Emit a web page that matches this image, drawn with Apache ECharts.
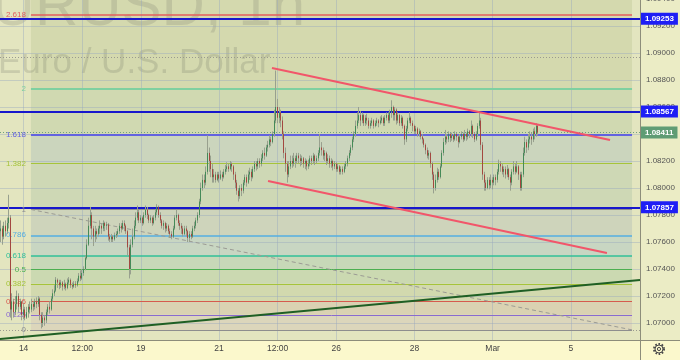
<!DOCTYPE html>
<html><head><meta charset="utf-8">
<script src="https://cdn.jsdelivr.net/npm/echarts@6/dist/echarts.min.js"></script>
<style>html,body{margin:0;padding:0;background:#ebecc5}#c{width:680px;height:360px}</style>
</head><body><div id="c"></div>
<script>
// ---- data (candle values are pips above priceBase) ----
const priceBase = 1.07;
const firstOpen = 68;
const closes = [
70,64,72,68,74,78,10,16,8,14, 20,12,16,6,10,4,8,12,10,14, 12,16,14,18,6,0,4,2,8,12,
10,18,22,24,32,30,28,30,27,29, 26,30,32,28,27,29,28,31,35,33, 37,40,48,58,72,80,70,64,68,66,
70,72,70,74,72,73,64,62,64,62, 65,66,68,72,70,74,72,68,56,40, 58,64,72,78,82,76,78,74,80,84,
80,76,78,74,78,82,86,80,76,72, 74,70,72,68,66,64,70,78,80,74, 72,70,66,70,68,63,66,64,70,72,
76,80,90,100,106,104,112,126,120,114, 108,110,106,110,107,110,108,112,114,116, 114,118,116,110,104,98,94,100,98,104,
108,104,110,112,108,114,118,116,120,118, 122,126,124,130,132,136,134,140,150,160, 152,156,150,140,126,118,110,116,120,118,
122,120,124,122,120,122,118,120,116,118, 122,120,124,120,122,126,130,128,124,126, 120,122,118,120,116,118,114,116,112,114,
112,116,118,122,126,130,136,140,146,150, 154,150,154,148,152,150,146,148,150,146, 148,150,148,150,152,148,152,154,150,156,
160,154,158,150,154,148,152,146,136,144, 150,152,148,146,142,144,140,142,138,136, 132,128,124,126,118,110,100,106,112,108,
116,126,134,138,136,140,137,139,136,140, 138,134,138,140,136,140,138,142,140,146, 140,136,140,146,150,132,110,104,100,106,
102,106,104,108,106,112,118,116,112,114, 110,114,108,104,112,116,112,116,110,100, 110,126,134,130,136,138,136,142,140,146,141];
const highs = [
76,72,75,76,78,95,80,22,18,20, 24,22,18,16,14,12,12,14,16,18, 16,18,19,20,19,8,8,6,10,14,
16,20,25,28,34,33,32,32,31,32, 30,33,34,33,30,31,31,33,37,39, 40,42,50,62,78,86,82,72,72,70,
72,76,74,76,75,75,74,66,66,65, 67,68,70,74,74,76,76,73,69,58, 62,70,76,82,87,84,80,79,82,87,
86,81,80,79,80,84,88,87,82,77, 76,75,74,73,70,68,72,80,84,81, 76,74,72,72,72,69,68,68,72,75,
78,82,92,104,110,110,116,139,130,124, 118,114,112,112,112,113,112,114,117,119, 118,120,119,117,112,106,100,102,103,106,
110,110,113,115,114,116,120,120,122,122, 125,128,130,132,135,139,138,142,158,187, 166,160,158,153,142,130,120,120,124,124,
126,124,126,126,125,124,123,122,121,121, 124,124,126,125,124,128,140,134,130,128, 127,125,124,122,121,120,119,118,117,116,
116,118,120,124,128,132,138,142,150,156, 160,157,156,155,154,155,152,150,152,151, 150,152,151,153,154,153,154,156,156,158,
165,161,160,159,156,155,154,153,147,146, 152,156,153,150,147,146,145,144,143,140, 137,133,130,128,127,119,112,110,115,114,
118,128,137,143,140,142,141,141,140,142, 141,139,140,142,141,143,141,144,143,150, 147,141,142,148,156,152,134,112,106,108,
108,110,108,110,110,114,121,120,118,116, 116,117,115,110,114,120,118,120,117,112, 112,130,138,136,140,142,141,144,145,148,147];
const lows = [
60,58,62,64,66,70,4,2,4,6, 10,8,10,2,3,2,3,4,7,8, 9,10,11,12,2,-4,-3,-2,0,6,
7,9,16,20,23,26,25,26,24,25, 24,25,28,26,25,26,26,27,30,31, 32,35,39,47,57,70,62,57,60,62,
64,66,66,68,68,69,61,60,60,60, 61,63,64,66,67,69,68,66,50,33, 36,56,62,70,76,74,74,72,73,78,
77,74,74,72,73,76,80,78,74,70, 69,67,68,66,63,62,63,69,76,72, 69,66,64,65,64,60,60,62,63,68,
70,74,78,88,98,100,102,110,112,108, 104,104,104,105,104,106,105,107,110,112, 112,113,112,106,100,95,90,92,94,96,
102,101,103,106,105,107,112,113,114,115, 116,120,121,123,127,130,131,133,138,148, 148,148,145,136,122,112,104,108,114,115,
116,115,118,118,116,117,115,114,113,114, 116,117,118,117,118,120,124,124,121,120, 117,118,115,115,113,114,112,112,110,110,
110,111,114,116,120,124,128,134,138,144, 148,146,148,146,146,147,144,144,146,144, 145,146,145,147,148,146,146,150,148,148,
152,150,150,147,148,146,146,144,132,134, 142,148,146,142,140,140,138,138,136,133, 130,125,122,121,115,106,96,98,104,106,
107,115,124,132,133,134,134,135,134,135, 135,130,133,136,134,135,135,136,137,138, 137,134,135,138,144,128,106,98,98,99,
99,100,99,102,102,104,110,112,110,108, 107,108,106,98,102,110,110,111,106,98, 98,108,124,126,128,133,132,134,136,138,139];

const nSlots = 393;                       // hourly slots shown on the time axis
const tickIdx  = [14, 50, 86, 134, 170, 206, 254, 302, 350];
const tickText = ['14','12:00','19','21','12:00','26','28','Mar','5'];

const fibLevels = [0, 0.125, 0.236, 0.382, 0.5, 0.618, 0.786, 1, 1.382, 1.618, 2, 2.618];
const fibLabels = ['0','0.125','0.236','0.382','0.5','0.618','0.786','1','1.382','1.618','2','2.618'];
const fib0 = 1.06949, fib1 = 1.07841;
const fibStart = 18.5, fibEnd = 387.6;

const levelLines  = [1.09253, 1.08567, 1.07857];
const lastPrice   = 1.08411;
const dottedLines = [1.08972, 1.06949];
const channelUpper = [[166.5, 1.08889], [374.1, 1.08356]];
const channelLower = [[164.1, 1.08052], [372.2, 1.07519]];
const trendLine    = [[-0.5, 1.06881], [392.5, 1.07319]];
const fibDiagonal  = [[18.5, 1.07841], [387.6, 1.06949]];

// ---- styles ----
const fibColors = ['#8e8e8e','#8a6ad0','#d65a4e','#a6c43a','#4caf50','#2fbf99','#55aee0','#8e8e8e','#a6c43a','#6262e0','#7fd0a0','#e35d5d'];
const fibWidths = [1,1,1,1,1,1.5,1.5,1,1,2,2,1.5];
const zoneColors = ['#dcd6bb','#dad2b2','#d2d9ae','#cbd9b1','#c7d8b8','#c8d6c2','#ced4bb','#ced8b5','#cbd5bd','#d0d9b1','#d4d9ae'];
const topZoneColor = '#d4d9ae';
const FONT = 'Liberation Sans';

// ---- build ----
const categories = [];
let t = Date.UTC(2024, 1, 13, 10);
while (categories.length < nSlots) {
  const d = new Date(t);
  const wd = d.getUTCDay();
  if (wd !== 0 && wd !== 6) categories.push(d.toISOString().slice(0, 13) + ':00');
  t += 3600000;
}
const px = v => +(priceBase + v / 10000).toFixed(5);
const ohlc = closes.map((c, i) => {
  const o = i ? closes[i - 1] : firstOpen;
  const h = Math.max(highs[i], o, c), l = Math.min(lows[i], o, c);
  return [px(o), px(c), px(l), px(h)];
});
const bodies = ohlc.map(([o, c]) => [o, c, Math.min(o, c), Math.max(o, c)]);
const fibPrices = fibLevels.map(l => +(fib0 + l * (fib1 - fib0)).toFixed(5));

const zones = fibPrices.slice(0, -1).map((p, k) => [
  { coord: [fibStart, p], itemStyle: { color: zoneColors[k] } },
  { coord: [fibEnd, fibPrices[k + 1]] }
]);
zones.push([{ coord: [fibStart, fibPrices[fibPrices.length - 1]], itemStyle: { color: topZoneColor } }, { coord: [fibEnd, 1.094] }]);

const fibLineData = fibPrices.map((p, k) => [
  { coord: [fibStart, p], lineStyle: { color: fibColors[k], width: fibWidths[k], type: 'solid' },
    label: { show: true, position: 'start', distance: 5, formatter: fibLabels[k], color: fibColors[k], fontSize: 8, fontFamily: FONT } },
  { coord: [fibEnd, p] }
]);

const gridColor = 'rgba(150,168,190,0.42)';
const lineSeries = (data, color, width, type, z) => ({
  type: 'line', xAxisIndex: 1, data, symbol: 'none', silent: true, z,
  lineStyle: { color, width, type }
});
const holder = (z, extra) => Object.assign({
  type: 'line', xAxisIndex: 1, data: [[fibStart, fib0]], symbol: 'none', lineStyle: { opacity: 0 }, silent: true, z
}, extra);

const chart = echarts.init(document.getElementById('c'), null, { renderer: 'canvas' });
chart.setOption({
  animation: false,
  backgroundColor: '#ebecc5',
  grid: { left: 0, right: 40, top: -1, bottom: 10, show: true, backgroundColor: '#e3e5bf', borderWidth: 0,
          containLabel: false, outerBoundsMode: 'none' },
  xAxis: [
    { type: 'category', data: categories, boundaryGap: true, show: false },
    { type: 'value', min: -0.5, max: nSlots - 0.5, show: false },
    { type: 'category', data: categories, boundaryGap: true, position: 'bottom', offset: -10, z: 50,
      axisLine: { show: false }, axisTick: { show: false }, splitLine: { show: false },
      axisLabel: { interval: (i) => tickIdx.includes(i), formatter: (v, i) => tickText[tickIdx.indexOf(i)] || '',
        fontSize: 8.5, color: '#444', margin: 4, fontFamily: FONT } }
  ],
  yAxis: {
    type: 'value', position: 'right', min: 1.068, max: 1.094, interval: 0.002, z: 3,
    axisLine: { show: false }, axisTick: { show: false },
    splitLine: { show: true, lineStyle: { color: gridColor, width: 1 } },
    axisLabel: { formatter: v => v.toFixed(5), fontSize: 8, color: '#555', margin: 6, fontFamily: FONT }
  },
  graphic: [
    { type: 'text', x: 305, y: 38, z: 2, silent: true,
      style: { text: 'EURUSD, 1h', font: '60px "Liberation Sans"', fill: 'rgba(110,112,100,0.2)', textAlign: 'right', textVerticalAlign: 'bottom' } },
    { type: 'text', x: -2, y: 81, z: 2, silent: true,
      style: { text: 'Euro / U.S. Dollar', font: '35px "Liberation Sans"', fill: 'rgba(110,112,100,0.22)', textAlign: 'left', textVerticalAlign: 'bottom' } },
    { type: 'rect', z: 40, silent: true, shape: { x: 0, y: 340, width: 680, height: 20 }, style: { fill: '#fbf8cc' } },
    { type: 'line', z: 41, silent: true, shape: { x1: 0, y1: 340.5, x2: 680, y2: 340.5 }, style: { stroke: '#8d8d7a', lineWidth: 1 } },
    { type: 'line', z: 41, silent: true, shape: { x1: 640.5, y1: 0, x2: 640.5, y2: 360 }, style: { stroke: '#8d8d7a', lineWidth: 1 } },
    { type: 'circle', z: 42, silent: true, shape: { cx: 659, cy: 349, r: 5 }, style: { fill: 'none', stroke: '#4a4a4a', lineWidth: 2, lineDash: [1.6, 1.6] } },
    { type: 'circle', z: 42, silent: true, shape: { cx: 659, cy: 349, r: 4 }, style: { fill: 'none', stroke: '#4a4a4a', lineWidth: 1 } },
    { type: 'circle', z: 42, silent: true, shape: { cx: 659, cy: 349, r: 1.6 }, style: { fill: 'none', stroke: '#4a4a4a', lineWidth: 1 } }
  ],
  series: [
    holder(1, { markArea: { silent: true, data: zones } }),
    holder(2, { markLine: { silent: true, precision: 5, symbol: ['none', 'none'], label: { show: false },
        lineStyle: { color: gridColor, width: 1, type: 'solid' }, data: tickIdx.map(i => ({ xAxis: i })) } }),
    holder(3, { markLine: { silent: true, precision: 5, symbol: ['none', 'none'], label: { show: false },
        lineStyle: { color: '#9a9a90', width: 1, type: [1, 2] }, data: dottedLines.map(v => ({ yAxis: v })) } }),
    holder(4, { markLine: { silent: true, precision: 5, symbol: ['none', 'none'], data: fibLineData } }),
    lineSeries(fibDiagonal, '#9b9b94', 1, [4, 3], 5),
    { // wicks
      type: 'candlestick', xAxisIndex: 0, data: ohlc, barWidth: 1, silent: true, z: 10,
      itemStyle: { color: '#9aa08e', color0: '#9aa08e', borderColor: '#98a08e', borderColor0: '#98a08e', borderWidth: 1 }
    },
    { // bodies
      type: 'candlestick', xAxisIndex: 0, data: bodies, barWidth: 1, silent: true, z: 11,
      itemStyle: { color: '#458a58', color0: '#a34840', borderColor: '#458a58', borderColor0: '#a34840', borderWidth: 1 }
    },
    lineSeries(channelUpper, '#f2566a', 2, 'solid', 12),
    lineSeries(channelLower, '#f2566a', 2, 'solid', 12),
    lineSeries(trendLine, '#1f5f24', 2, 'solid', 12),
    holder(13, { markLine: { silent: true, precision: 5, symbol: ['none', 'none'],
        data: levelLines.map(v => ({ yAxis: v, lineStyle: { color: '#1717cc', width: 2, type: 'solid' },
          label: { show: true, position: 'end', distance: 1, formatter: v.toFixed(5), color: '#fff', fontWeight: 'bold',
            fontSize: 8, fontFamily: FONT, backgroundColor: '#1e1ef5', padding: [2, 4, 2, 4] } }))
          .concat([{ yAxis: lastPrice, lineStyle: { color: '#6f9f7f', width: 1, type: [1, 2] },
          label: { show: true, position: 'end', distance: 1, formatter: lastPrice.toFixed(5), color: '#fff', fontWeight: 'bold',
            fontSize: 8, fontFamily: FONT, backgroundColor: '#5f9c74', padding: [2, 4, 2, 4] } }])
      } })
  ]
});
</script></body></html>
